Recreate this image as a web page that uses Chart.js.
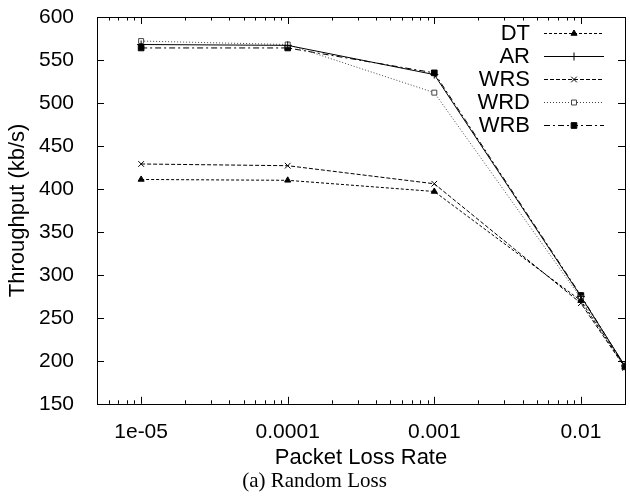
<!DOCTYPE html>
<html>
<head>
<meta charset="utf-8">
<script src="https://cdn.jsdelivr.net/npm/chart.js@4.4.0/dist/chart.umd.min.js"></script>
<style>
  html, body { margin: 0; padding: 0; background: #fff; }
  #wrap { width: 630px; height: 496px; position: relative; }
</style>
</head>
<body>
<div id="wrap"><canvas id="myChart"></canvas></div>
<script>
// packet loss rates (x) and throughput in kb/s per scheme
const lossRates = [1e-5, 1e-4, 1e-3, 1e-2, 2e-2];
const dtValues  = [411, 410, 397, 270, 193];
const arValues  = [568, 567, 533, 275, 194];
const wrsValues = [429, 427, 406, 267, 192];
const wrdValues = [572, 568, 512, 273, 193];
const wrbValues = [564, 564, 535, 276, 193];
const seriesNames = ['DT', 'AR', 'WRS', 'WRD', 'WRB'];
const xTickValues = [1e-5, 1e-4, 1e-3, 1e-2];
const xTickLabels = ['1e-05', '0.0001', '0.001', '0.01'];

const sans = '"Liberation Sans", Arial, sans-serif';
const toPoints = vals => vals.map((v, i) => ({x: lossRates[i], y: v}));

const styles = [
  {data: dtValues,  borderDash: [3, 2], pointStyle: 'triangle', pointRadius: 3.5, fill: '#000', color: '#000'},
  {data: arValues,  borderDash: [],     pointStyle: 'cross',    pointRadius: 4,   fill: '#000', color: '#000'},
  {data: wrsValues, borderDash: [4, 2], pointStyle: 'crossRot', pointRadius: 4,   fill: '#000', color: '#000'},
  {data: wrdValues, borderDash: [1, 2], pointStyle: 'rect',     pointRadius: 3.5, fill: '#fff', color: '#444'},
  {data: wrbValues, borderDash: [6, 3, 2, 3], pointStyle: 'rect', pointRadius: 4, fill: '#000', color: '#000'}
];

const datasets = styles.map((s, i) => ({
  label: seriesNames[i],
  data: toPoints(s.data),
  borderColor: s.color,
  backgroundColor: s.fill,
  borderWidth: 1,
  borderDash: s.borderDash,
  pointStyle: s.pointStyle,
  pointRadius: s.pointRadius,
  pointBorderColor: s.color,
  pointBackgroundColor: s.fill,
  pointBorderWidth: 1,
  tension: 0
}));

// gnuplot-like frame with inward ticks, plus the legend
const framePlugin = {
  id: 'frame',
  afterDatasetsDraw(chart) {
    const {ctx, chartArea: a, scales} = chart;
    ctx.save();
    ctx.strokeStyle = '#000';
    ctx.lineWidth = 1;
    ctx.setLineDash([]);
    ctx.strokeRect(Math.round(a.left) + 0.5, Math.round(a.top) + 0.5, Math.round(a.right - a.left), Math.round(a.bottom - a.top));
    ctx.beginPath();
    for (let v = 150; v <= 600; v += 50) {
      const y = Math.round(scales.y.getPixelForValue(v)) + 0.5;
      ctx.moveTo(a.left, y); ctx.lineTo(a.left + 7, y);
      ctx.moveTo(a.right, y); ctx.lineTo(a.right - 7, y);
    }
    for (let e = -6; e <= -2; e++) {
      for (let m = 1; m <= 9; m++) {
        const v = m * Math.pow(10, e);
        if (v < scales.x.min || v > scales.x.max) continue;
        const x = Math.round(scales.x.getPixelForValue(v)) + 0.5;
        const len = m === 1 ? 7 : 3.5;
        ctx.moveTo(x, a.bottom); ctx.lineTo(x, a.bottom - len);
        ctx.moveTo(x, a.top); ctx.lineTo(x, a.top + len);
      }
    }
    ctx.stroke();

    ctx.font = '22px ' + sans;
    ctx.textAlign = 'right';
    ctx.textBaseline = 'middle';
    chart.data.datasets.forEach((ds, i) => {
      const y = Math.round(a.top + 16 + i * 23);
      ctx.fillStyle = '#000';
      ctx.fillText(ds.label, 530, y + 1);
      ctx.beginPath();
      ctx.setLineDash(ds.borderDash);
      ctx.strokeStyle = ds.borderColor;
      ctx.moveTo(544, y + 0.5); ctx.lineTo(604, y + 0.5);
      ctx.stroke();
      ctx.setLineDash([]);
      ctx.fillStyle = ds.pointBackgroundColor;
      ctx.strokeStyle = ds.pointBorderColor;
      Chart.helpers.drawPoint(ctx, {pointStyle: ds.pointStyle, radius: ds.pointRadius, rotation: 0, borderWidth: 1}, 574, y + 0.5);
    });
    ctx.restore();
  }
};

new Chart(document.getElementById('myChart'), {
  type: 'line',
  data: {datasets},
  plugins: [framePlugin],
  options: {
    responsive: true,
    maintainAspectRatio: false,
    animation: false,
    layout: {padding: {top: 17, right: 1, left: 0, bottom: 0}},
    plugins: {
      legend: {display: false},
      tooltip: {enabled: false},
      title: {
        display: true,
        position: 'bottom',
        text: '(a) Random Loss',
        color: '#000',
        font: {family: '"Liberation Serif", "Times New Roman", serif', size: 21, weight: 'normal', lineHeight: 1.2},
        padding: {top: 0, bottom: 2}
      }
    },
    scales: {
      x: {
        type: 'logarithmic',
        min: 5e-6,
        max: 2e-2,
        grid: {display: false},
        border: {display: false},
        afterBuildTicks: scale => { scale.ticks = xTickValues.map(v => ({value: v})); },
        afterFit: scale => { scale.height = 65; },
        ticks: {
          autoSkip: false,
          maxRotation: 0,
          padding: 8,
          color: '#000',
          font: {family: sans, size: 21},
          callback: v => { const i = xTickValues.indexOf(v); return i >= 0 ? xTickLabels[i] : ''; }
        },
        title: {
          display: true,
          text: 'Packet Loss Rate',
          color: '#000',
          font: {family: sans, size: 22, lineHeight: 1},
          padding: {top: 0, bottom: 0}
        }
      },
      y: {
        min: 150,
        max: 600,
        grid: {display: false},
        border: {display: false},
        afterFit: scale => { scale.width = 97; scale.paddingTop = 0; scale.paddingBottom = 0; },
        ticks: {
          stepSize: 50,
          padding: 15,
          color: '#000',
          font: {family: sans, size: 21}
        },
        title: {
          display: true,
          text: 'Throughput (kb/s)',
          color: '#000',
          font: {family: sans, size: 22, lineHeight: 1},
          padding: {top: 7, bottom: 0}
        }
      }
    }
  }
});
</script>
</body>
</html>
